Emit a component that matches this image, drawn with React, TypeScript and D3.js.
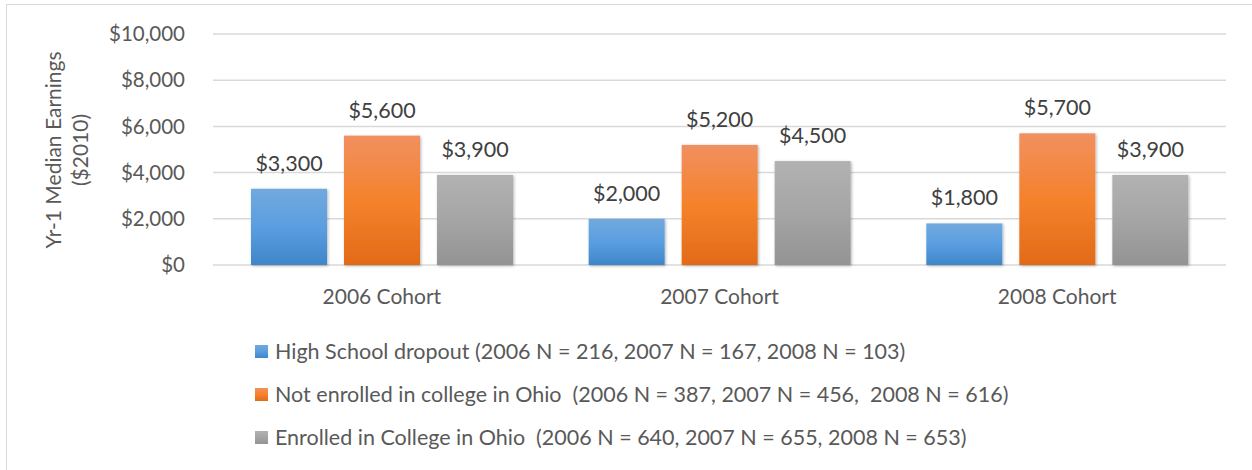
import React, { useEffect, useRef } from 'react';
import * as d3 from 'd3';

const cohorts = ['2006 Cohort', '2007 Cohort', '2008 Cohort'];
const seriesNames = [
  'High School dropout (2006 N = 216, 2007 N = 167, 2008 N = 103)',
  'Not enrolled in college in Ohio  (2006 N = 387, 2007 N = 456,  2008 N = 616)',
  'Enrolled in College in Ohio  (2006 N = 640, 2007 N = 655, 2008 N = 653)',
];
const dropout = [3300, 2000, 1800];
const notEnrolled = [5600, 5200, 5700];
const enrolled = [3900, 4500, 3900];
const yTicks = [0, 2000, 4000, 6000, 8000, 10000];

const gradients = [
  ['#72a9de', '#5a9ee0', '#3f86c9'],
  ['#f09060', '#f5822c', '#e26a18'],
  ['#b2b2b2', '#a5a5a5', '#939393'],
];
const FONT = 'Lato, "Open Sans", sans-serif';

const App = () => {
  const ref = useRef(null);

  useEffect(() => {
    const svg = d3.select(ref.current);
    svg.selectAll('*').remove();

    const series = [dropout, notEnrolled, enrolled];
    const x0 = d3.scaleBand().domain(cohorts).range([213, 1226]).paddingInner(0).paddingOuter(0);
    // bars 76px wide with ~17px gaps, centred in each cohort band
    const x1 = d3
      .scaleBand()
      .domain(d3.range(3).map(String))
      .range([38, 300])
      .paddingInner(0.183)
      .paddingOuter(0);
    const y = d3.scaleLinear().domain([0, 10000]).range([265, 34]);
    const fmt = (v) => '$' + d3.format(',')(v);

    const defs = svg.append('defs');
    gradients.forEach((g, i) => {
      const lg = defs
        .append('linearGradient')
        .attr('id', 'grad' + i)
        .attr('x1', 0).attr('y1', 0).attr('x2', 0).attr('y2', 1);
      lg.append('stop').attr('offset', '0%').attr('stop-color', g[0]);
      lg.append('stop').attr('offset', '50%').attr('stop-color', g[1]);
      lg.append('stop').attr('offset', '100%').attr('stop-color', g[2]);
    });
    const f = defs.append('filter').attr('id', 'shadow').attr('x', '-20%').attr('y', '-10%').attr('width', '140%').attr('height', '120%');
    f.append('feDropShadow').attr('dx', 1).attr('dy', 1).attr('stdDeviation', 1.5).attr('flood-color', '#000').attr('flood-opacity', 0.3);

    // outer border
    svg.append('rect')
      .attr('x', 6.5).attr('y', 4.5).attr('width', 1250).attr('height', 470)
      .attr('fill', '#fff').attr('stroke', '#d9d9d9');

    // gridlines
    svg.append('g')
      .selectAll('line')
      .data(yTicks)
      .join('line')
      .attr('x1', 213).attr('x2', 1226)
      .attr('y1', (d) => y(d)).attr('y2', (d) => y(d))
      .attr('stroke', '#d9d9d9').attr('stroke-width', 1.5);

    // y tick labels
    svg.append('g')
      .selectAll('text')
      .data(yTicks)
      .join('text')
      .attr('x', 185).attr('y', (d) => y(d))
      .attr('dy', '0.35em')
      .attr('text-anchor', 'end')
      .attr('font-family', FONT).attr('font-size', 20.5).attr('fill', '#595959')
      .text(fmt);

    // y axis title
    const yt = svg.append('text')
      .attr('transform', 'translate(68,150) rotate(-90)')
      .attr('text-anchor', 'middle')
      .attr('font-family', FONT).attr('font-size', 21).attr('fill', '#595959');
    yt.append('tspan').attr('x', 0).attr('dy', '-0.35em').text('Yr-1 Median Earnings');
    yt.append('tspan').attr('x', 0).attr('dy', '1.3em').text('($2010)');

    // bars
    const groups = svg.append('g')
      .selectAll('g')
      .data(cohorts)
      .join('g')
      .attr('transform', (d) => `translate(${x0(d)},0)`);

    groups.selectAll('rect')
      .data((d, ci) => series.map((s, si) => ({ si, v: s[ci] })))
      .join('rect')
      .attr('x', (d) => x1(String(d.si)))
      .attr('width', x1.bandwidth())
      .attr('y', (d) => y(d.v))
      .attr('height', (d) => y(0) - y(d.v))
      .attr('fill', (d) => `url(#grad${d.si})`)
      .attr('filter', 'url(#shadow)');

    groups.selectAll('text.val')
      .data((d, ci) => series.map((s, si) => ({ si, v: s[ci] })))
      .join('text')
      .attr('class', 'val')
      .attr('x', (d) => x1(String(d.si)) + x1.bandwidth() / 2)
      .attr('y', (d) => y(d.v) - 18)
      .attr('text-anchor', 'middle')
      .attr('font-family', FONT).attr('font-size', 21.5).attr('fill', '#404040')
      .text((d) => fmt(d.v));

    // category labels
    svg.append('g')
      .selectAll('text')
      .data(cohorts)
      .join('text')
      .attr('x', (d) => x0(d) + x0.bandwidth() / 2)
      .attr('y', 304)
      .attr('text-anchor', 'middle')
      .attr('font-family', FONT).attr('font-size', 21).attr('fill', '#595959')
      .text((d) => d);

    // legend
    const lg = svg.append('g')
      .selectAll('g')
      .data(seriesNames)
      .join('g')
      .attr('transform', (d, i) => `translate(255,${351 + i * 43})`);
    lg.append('rect')
      .attr('x', 0).attr('y', -6).attr('width', 13).attr('height', 13)
      .attr('fill', (d, i) => `url(#grad${i})`);
    lg.append('text')
      .attr('x', 20).attr('y', 0).attr('dy', '0.35em')
      .attr('font-family', FONT).attr('font-size', 21.5).attr('fill', '#595959')
      .attr('xml:space', 'preserve')
      .style('white-space', 'pre')
      .text((d) => d);
  }, []);

  return <svg ref={ref} width={1252} height={470} style={{ position: 'absolute', left: 0, top: 0 }} />;
};

export default App;
